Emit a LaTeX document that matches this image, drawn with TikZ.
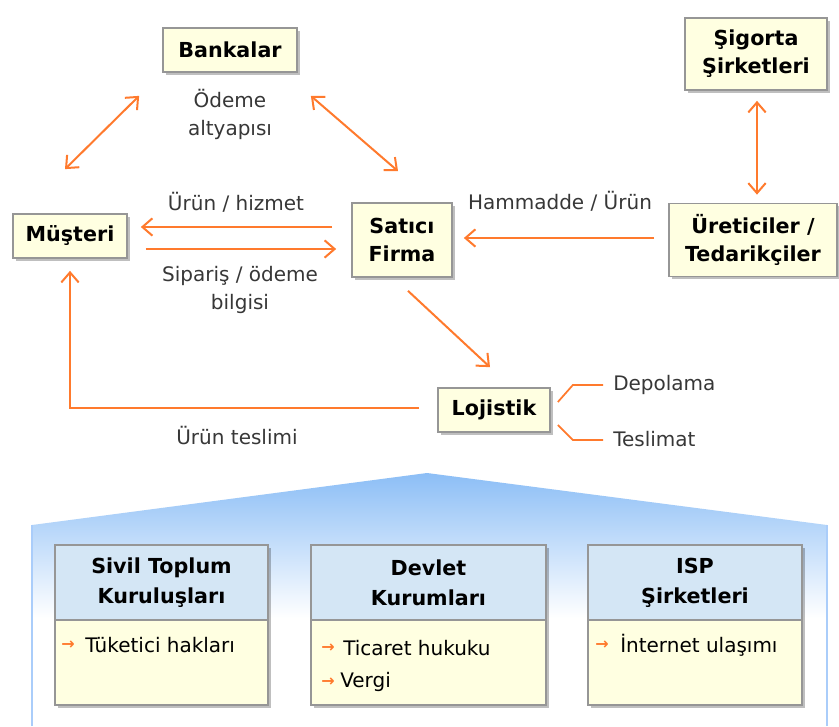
\documentclass[tikz,border=0pt]{standalone}
\usepackage{fontspec}
\setmainfont{DejaVu Sans}
\usetikzlibrary{arrows.meta,shadows,calc}
\definecolor{arr}{RGB}{255,122,45}
\definecolor{boxfill}{RGB}{255,255,225}
\definecolor{boxdraw}{RGB}{150,150,150}
\definecolor{hdrfill}{RGB}{212,230,245}
\definecolor{roof}{RGB}{140,190,246}
\definecolor{wall}{RGB}{170,205,250}
\definecolor{lbl}{RGB}{55,55,55}
\begin{document}
\begin{tikzpicture}[x=0.75pt,y=-0.75pt,
  every node/.style={font=\fontsize{15}{21}\selectfont},
  >={Straight Barb[length=7.5pt,width=13pt]},
  ebox/.style={draw=boxdraw, line width=1.3pt, fill=boxfill, inner sep=0pt, align=center,
    font=\fontsize{15.5}{21}\selectfont\bfseries,
    drop shadow={shadow xshift=2pt,shadow yshift=-2pt,fill=black,opacity=0.25}},
  hdr/.style={ebox, fill=hdrfill, font=\fontsize{15.5}{22.5}\selectfont\bfseries},
  body/.style={ebox},
  lab/.style={text=lbl, align=center, inner sep=0pt},
  item/.style={text=black, inner sep=0pt, anchor=west},
  bul/.style={text=arr, inner sep=0pt, font=\fontsize{12}{12}\selectfont\bfseries},
  con/.style={draw=arr, line width=1.5pt},
  twig/.style={draw=arr, line width=1.3pt}
]
\useasboundingbox (0,0) rectangle (839,726);
\fill[white] (0,0) rectangle (839,726);

% house background
\begin{scope}
  \clip (32,740) -- (32,525) -- (427,473) -- (827,525) -- (827,740) -- cycle;
  \shade[top color=roof, bottom color=white] (32,473) rectangle (827,618);
\end{scope}
\draw[wall, line width=1.5pt] (32,726) -- (32,525);
\draw[wall, line width=1.5pt] (827,726) -- (827,525);

% top nodes
\node[ebox, minimum width=100.5pt, minimum height=33pt] (bank) at (230,50) {Bankalar};
\node[ebox, minimum width=106.5pt, minimum height=54pt] (sig) at (756,54) {Şigorta\\Şirketleri};
\node[ebox, minimum width=85.5pt, minimum height=33pt] (mus) at (70,236) {Müşteri};
\node[ebox, minimum width=75pt, minimum height=55.5pt] (sat) at (402,240) {Satıcı\\Firma};
\node[ebox, minimum width=126pt, minimum height=54.75pt] (ure) at (753,240) {Üreticiler /\\Tedarikçiler};
\node[ebox, minimum width=84pt, minimum height=33pt] (loj) at (494,410) {Lojistik};

% labels
\node[lab] (odeme) at (230,114) {Ödeme\\altyapısı};
\node[lab] (urunhiz) at (236,202) {Ürün / hizmet};
\node[lab] (siparis) at (240,290) {Sipariş / ödeme\\bilgisi};
\node[lab] (hammadde) at (560,201) {Hammadde / Ürün};
\node[lab] (teslimi) at (237,436) {Ürün teslimi};
\node[lab, anchor=west] (dep) at (613,385) {Depolama};
\node[lab, anchor=west] (tes) at (613,439) {Teslimat};

% connectors
\draw[con,<->] ($(bank.south west)+(-23,23)$) -- ($(mus.north)+(-5,-44)$);
\draw[con,<->] ($(bank.south east)+(13,23)$) -- ($(sat.north)+(-4,-31)$);
\draw[con,->] ($(sat.west)+(-19,-13)$) -- ($(mus.east)+(13,-9)$);
\draw[con,->] ($(mus.east)+(18,13)$) -- ($(sat.west)+(-15,9)$);
\draw[con,->] ($(ure.west)+(-14,-2)$) -- ($(sat.east)+(11,-2)$);
\draw[con,<->] ($(sig.south)+(1,10)$) -- ($(ure.north)+(4,-8)$);
\draw[con,->] ($(sat.south)+(6,13)$) -- ($(loj.north)+(-4,-20)$);
\draw[con,->] ($(loj.west)+(-18,-2)$) -| ($(mus.south)+(0,12)$);
\draw[twig] ($(loj.east)+(7,-8)$) -- ++(15,-17) -- ($(dep.west)+(-10,0)$);
\draw[twig] ($(loj.east)+(7,15)$) -- ++(15,15) -- ($(tes.west)+(-10,1)$);

% bottom columns
\node[hdr, minimum width=159.75pt, minimum height=56.25pt] (h1) at (161.5,582.5) {Sivil Toplum\\Kuruluşları};
\node[body, minimum width=159.75pt, minimum height=63.75pt] (b1) at (161.5,662.5) {};
\node[hdr, minimum width=176.25pt, minimum height=56.25pt] (h2) at (428.5,582.5) {Devlet\\Kurumları};
\node[body, minimum width=176.25pt, minimum height=63.75pt] (b2) at (428.5,662.5) {};
\node[hdr, minimum width=160.5pt, minimum height=56.25pt] (h3) at (695,582.5) {ISP\\Şirketleri};
\node[body, minimum width=160.5pt, minimum height=63.75pt] (b3) at (695,662.5) {};

\node[bul] (u1) at (68,645) {→};
\node[item] (t1) at (85,645) {Tüketici hakları};
\node[bul] (u2) at (328,648) {→};
\node[item] (t2) at (343,648) {Ticaret hukuku};
\node[bul] (u3) at (328,682) {→};
\node[item] (t3) at (340,682) {Vergi};
\node[bul] (u4) at (602,645) {→};
\node[item] (t4) at (620,645) {İnternet ulaşımı};
\end{tikzpicture}
\end{document}
